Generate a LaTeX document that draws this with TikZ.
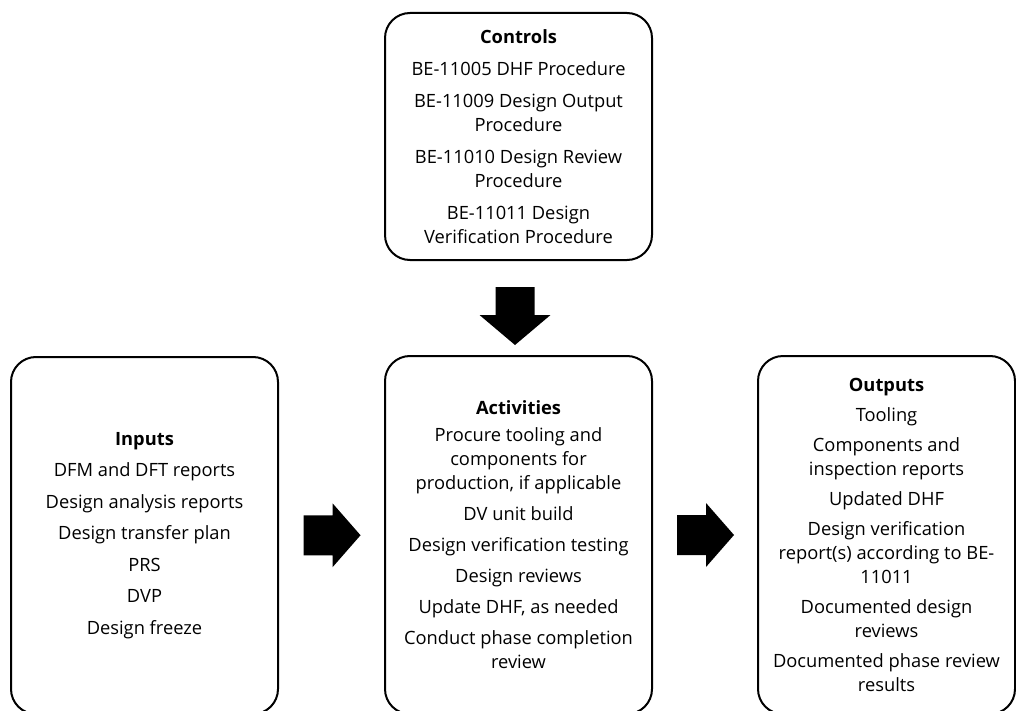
\documentclass[tikz,border=0pt]{standalone}
\usepackage{fontspec}
\setmainfont{Open Sans}
\usetikzlibrary{calc}
% filled block arrow pointing right, centred on a named coordinate
\newcommand\rightblock[1]{%
  \fill[blockarrow] ([shift={(-28,-20)}]#1) -- ([shift={(1,-20)}]#1)
    -- ([shift={(1,-32)}]#1) -- ([shift={(29,0)}]#1)
    -- ([shift={(1,32)}]#1) -- ([shift={(1,20)}]#1)
    -- ([shift={(-28,20)}]#1) -- cycle;}
\begin{document}
\begin{tikzpicture}[x=1pt,y=-1pt,
  panel/.style={draw=black, line width=2pt, rounded corners=25pt, fill=white,
    align=center, inner sep=0pt, font=\fontsize{18.3}{24}\selectfont},
  blockarrow/.style={fill=black, draw=none}]
\clip (0,0) rectangle (1016,711);
\fill[white] (0,0) rectangle (1016,711);

% the four panels
\node[panel, minimum width=267pt, minimum height=247pt] (controls) at (518.5,136.5)
  {\textbf{Controls}\\[8pt]
   BE-11005 DHF Procedure\\[8pt]
   BE-11009 Design Output\\ Procedure\\[8pt]
   BE-11010 Design Review\\ Procedure\\[8pt]
   BE-11011 Design\\ Verification Procedure};

\node[panel, minimum width=267pt, minimum height=357pt] (inputs) at (144.5,535.5)
  {\textbf{Inputs}\\[7.5pt]
   DFM and DFT reports\\[7.5pt]
   Design analysis reports\\[7.5pt]
   Design transfer plan\\[7.5pt]
   PRS\\[7.5pt]
   DVP\\[7.5pt]
   Design freeze};

\node[panel, minimum width=267pt, minimum height=358pt] (activities) at (518.5,535)
  {\textbf{Activities}\\[3pt]
   Procure tooling and\\ components for\\ production, if applicable\\[7pt]
   DV unit build\\[7pt]
   Design verification testing\\[7pt]
   Design reviews\\[7pt]
   Update DHF, as needed\\[7pt]
   Conduct phase completion\\ review};

\node[panel, minimum width=257pt, minimum height=358pt] (outputs) at (886.5,535)
  {\textbf{Outputs}\\[6pt]
   Tooling\\[6pt]
   Components and\\ inspection reports\\[6pt]
   Updated DHF\\[6pt]
   Design verification\\ report(s) according to BE-\\ 11011\\[6pt]
   Documented design\\ reviews\\[6pt]
   Documented phase review\\ results};

% block arrows between the panels
\coordinate (down) at (515,316);
\coordinate (right1) at ($(inputs.east)!0.5!(activities.west)$);
\coordinate (right2) at ($(activities.east)!0.5!(outputs.west)$);
\fill[blockarrow] ([shift={(-19.5,-29)}]down) -- ([shift={(19.5,-29)}]down)
  -- ([shift={(19.5,-1)}]down) -- ([shift={(35.5,-1)}]down)
  -- ([shift={(0,29)}]down) -- ([shift={(-35.5,-1)}]down)
  -- ([shift={(-19.5,-1)}]down) -- cycle;
\rightblock{right1}
\rightblock{right2}
\end{tikzpicture}
\end{document}
